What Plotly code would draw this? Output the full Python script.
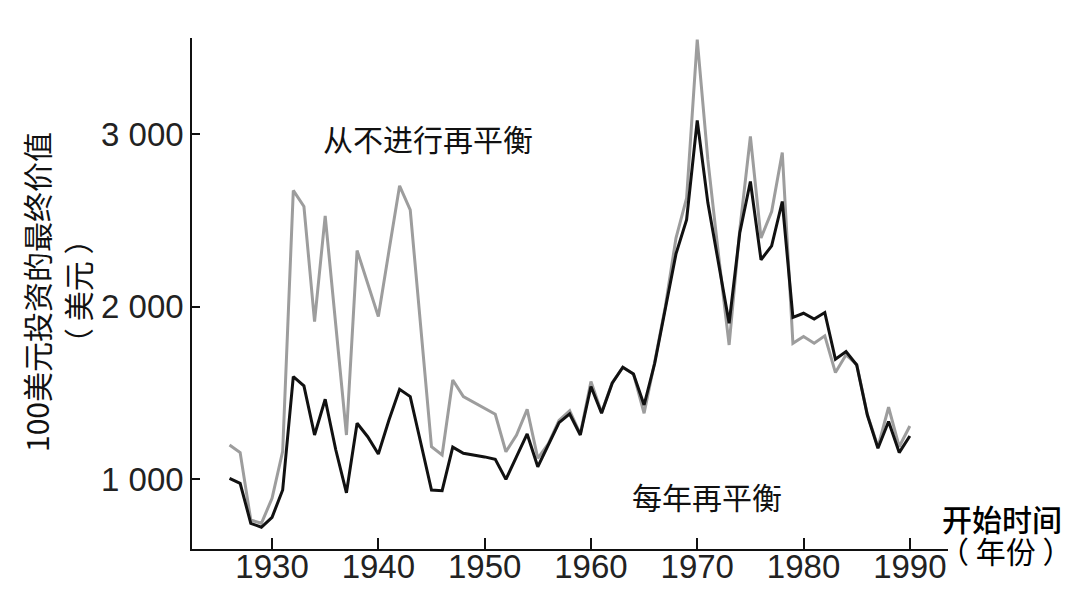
import plotly.graph_objects as go

# start year of the 100-dollar investment
years = list(range(1926, 1991))

# final value, never rebalanced (gray)
never_rebal = [1197, 1153, 762, 743, 888, 1160, 2673, 2580, 1913, 2526,
               1890, 1255, 2325, 2137, 1942, 2323, 2700, 2561, 1861, 1187,
               1139, 1574, 1478, 1445, 1410, 1375, 1158, 1255, 1404, 1120,
               1205, 1340, 1396, 1260, 1565, 1385, 1558, 1648, 1609, 1381,
               1680, 2000, 2397, 2629, 3547, 2850, 2300, 1777, 2445, 2986,
               2397, 2551, 2893, 1787, 1826, 1787, 1830, 1617, 1720, 1665,
               1375, 1185, 1416, 1187, 1307]

# final value, rebalanced every year (black)
yearly_rebal = [1004, 975, 743, 720, 778, 936, 1594, 1540, 1255, 1462,
                1168, 920, 1323, 1245, 1145, 1342, 1520, 1478, 1207, 936,
                932, 1185, 1149, 1139, 1128, 1114, 998, 1129, 1261, 1071,
                1199, 1327, 1377, 1255, 1536, 1381, 1555, 1648, 1609, 1429,
                1671, 1985, 2305, 2503, 3079, 2601, 2251, 1903, 2426, 2725,
                2271, 2352, 2609, 1937, 1961, 1927, 1965, 1694, 1739, 1661,
                1371, 1178, 1333, 1153, 1249]

x_ticks = [1930, 1940, 1950, 1960, 1970, 1980, 1990]
y_ticks = [1000, 2000, 3000]
y_ticktext = ["1 000", "2 000", "3 000"]

cjk = "Noto Sans CJK SC, Noto Sans, sans-serif"
num = "Liberation Sans, Arial, sans-serif"

fig = go.Figure()
fig.add_trace(go.Scatter(x=years, y=never_rebal, mode="lines",
                         line=dict(color="#9d9d9d", width=3)))
fig.add_trace(go.Scatter(x=years, y=yearly_rebal, mode="lines",
                         line=dict(color="#111111", width=3)))

# the page body adds an 8px margin, so margins are set 8px smaller on top/left
fig.update_layout(
    width=1090, height=594,
    margin=dict(l=184, r=150, t=30, b=53),
    paper_bgcolor="white", plot_bgcolor="white",
    showlegend=False,
    xaxis=dict(range=[1922.47, 1993.59], tickvals=x_ticks,
               ticks="inside", ticklen=11, tickwidth=1.5, tickcolor="#111",
               showline=True, linecolor="#111", linewidth=1.5,
               showgrid=False, zeroline=False, ticklabelstandoff=-12,
               tickfont=dict(family=num, size=33, color="#222")),
    yaxis=dict(range=[594, 3557], tickvals=y_ticks, ticktext=y_ticktext,
               ticks="inside", ticklen=8, tickwidth=1.5, tickcolor="#111",
               showline=True, linecolor="#111", linewidth=1.5,
               showgrid=False, zeroline=False,
               tickfont=dict(family=num, size=33, color="#222")),
)

txt = dict(family=cjk, size=30, color="#111")
fig.add_annotation(text="从不进行再平衡", xref="x", yref="y",
                   x=1944.67, y=2977, showarrow=False, font=txt)
fig.add_annotation(text="每年再平衡", xref="x", yref="y",
                   x=1970.92, y=902, showarrow=False, font=txt)
fig.add_annotation(text="开始时间", xref="paper", yref="paper",
                   x=1.0714, y=0.0607, xanchor="center", yanchor="middle",
                   showarrow=False,
                   font=dict(family=cjk, size=30, color="#000", weight=500))
fig.add_annotation(text="（ 年份 ）", xref="paper", yref="paper",
                   x=1.0767, y=-0.002, xanchor="center", yanchor="middle",
                   showarrow=False,
                   font=dict(family=cjk, size=30, color="#000"))
fig.add_annotation(text="100美元投资的最终价值", xref="paper", yref="paper",
                   x=-0.2063, y=0.503, xanchor="center", yanchor="middle",
                   textangle=-90, showarrow=False, font=txt)
fig.add_annotation(text="（ 美元 ）", xref="paper", yref="paper",
                   x=-0.152, y=0.503, xanchor="center", yanchor="middle",
                   textangle=-90, showarrow=False, font=txt)

fig.write_html("out.html")
